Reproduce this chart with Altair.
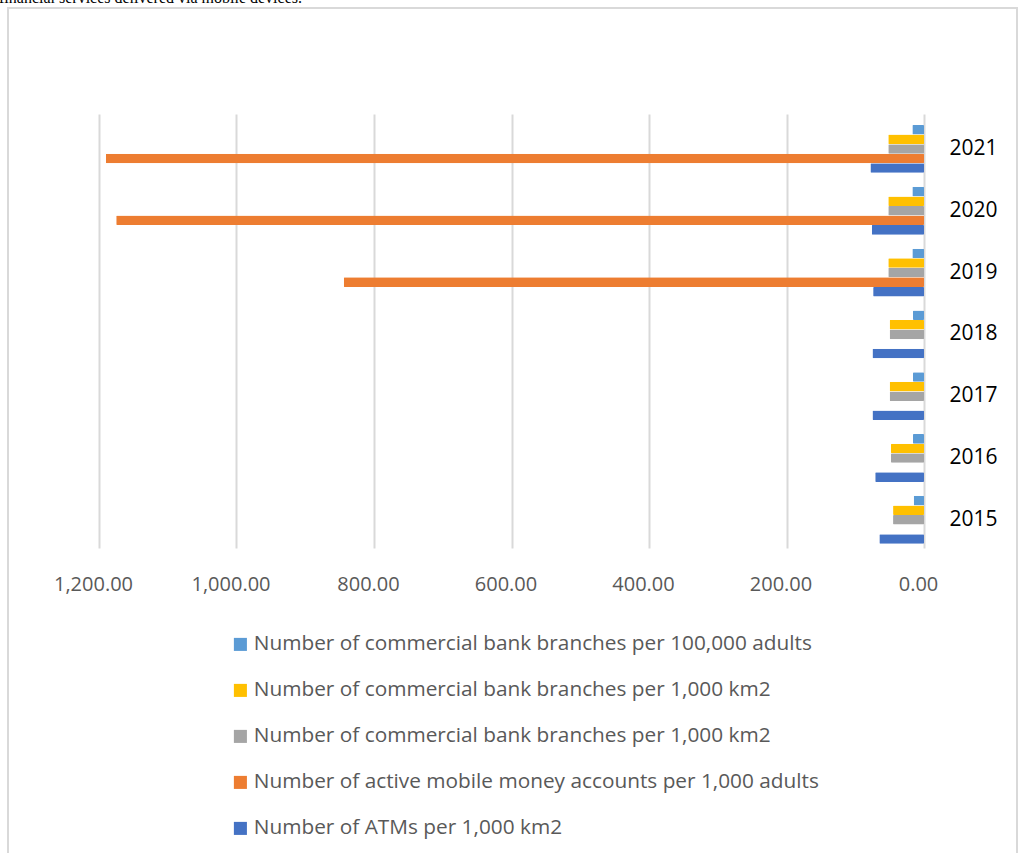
import altair as alt
import pandas as pd

years = [2015, 2016, 2017, 2018, 2019, 2020, 2021]
branches_100k = [15, 16, 16, 16, 17, 17, 17]
branches_km2_a = [45, 48, 50, 50, 52, 52, 52]
branches_km2_b = [45, 48, 50, 50, 52, 52, 52]
mobile_accounts = [None, None, None, None, 844, 1175, 1190]
atms_km2 = [65, 71, 75, 75, 74, 76, 78]

series_codes = ["s1", "s2", "s3", "s4", "s5"]
series_names = [
    "Number of commercial bank branches per 100,000 adults",
    "Number of commercial bank branches per 1,000 km2",
    "Number of commercial bank branches per 1,000 km2",
    "Number of active mobile money accounts per 1,000 adults",
    "Number of ATMs per 1,000 km2",
]
series_colors = ["#5B9BD5", "#FFC000", "#A5A5A5", "#ED7D31", "#4472C4"]
x_ticks = [0, 200, 400, 600, 800, 1000, 1200]
caption = "financial services delivered via mobile devices."

rows = []
for code, vals in zip(series_codes, [branches_100k, branches_km2_a, branches_km2_b, mobile_accounts, atms_km2]):
    for yr, v in zip(years, vals):
        if v is not None:
            rows.append({"year": str(yr), "series": code, "value": v})
df = pd.DataFrame(rows)

label_map = "{" + ",".join(f"'{c}':'{n}'" for c, n in zip(series_codes, series_names)) + "}"

bars = alt.Chart(df).mark_bar(cornerRadius=1).encode(
    x=alt.X("value:Q",
            scale=alt.Scale(domain=[0, 1200], reverse=True, nice=False),
            axis=alt.Axis(values=x_ticks, format=",.2f", title=None, grid=True,
                          gridColor="#D9D9D9", gridWidth=2, domain=False, ticks=False,
                          labelFontSize=20, labelColor="#595959", labelPadding=26,
                          labelOffset=-6, labelFlush=False, labelFont="Open Sans")),
    y=alt.Y("year:O", sort="descending",
            scale=alt.Scale(paddingInner=0.226, paddingOuter=0.124, align=0.72),
            axis=alt.Axis(orient="right", title=None, domain=False, ticks=False,
                          labelFontSize=21, labelColor="#000000", labelPadding=25,
                          labelFont="Open Sans", labelAlign="left")),
    yOffset=alt.YOffset("series:N", sort=series_codes),
    color=alt.Color("series:N",
                    scale=alt.Scale(domain=series_codes, range=series_colors),
                    legend=alt.Legend(title=None, orient="none", legendX=131, legendY=520,
                                      direction="vertical", symbolType="square",
                                      symbolSize=170, symbolStrokeWidth=0,
                                      labelFontSize=20.8, labelColor="#595959",
                                      labelFont="Open Sans", rowPadding=24,
                                      labelOffset=3, labelLimit=900,
                                      labelExpr=label_map + "[datum.label]")),
)

one = pd.DataFrame({"a": [0]})
frame = alt.Chart(one).mark_rect(fill=None, stroke="#D9D9D9", strokeWidth=2).encode(
    x=alt.value(-91), x2=alt.value(918), y=alt.value(-106), y2=alt.value(760)
)
top_text = alt.Chart(one).mark_text(align="left", baseline="alphabetic",
                                    font="Liberation Serif", fontSize=16,
                                    color="#000000").encode(
    x=alt.value(-100), y=alt.value(-111), text=alt.value(caption)
)

chart = alt.layer(frame, bars, top_text).properties(
    width=825, height=434,
    autosize=alt.AutoSizeParams(type="none"),
    padding={"left": 99, "top": 114, "right": 95, "bottom": 305},
).configure_view(stroke=None)

chart.save("out.html", embed_options={"renderer": "svg", "actions": False})
